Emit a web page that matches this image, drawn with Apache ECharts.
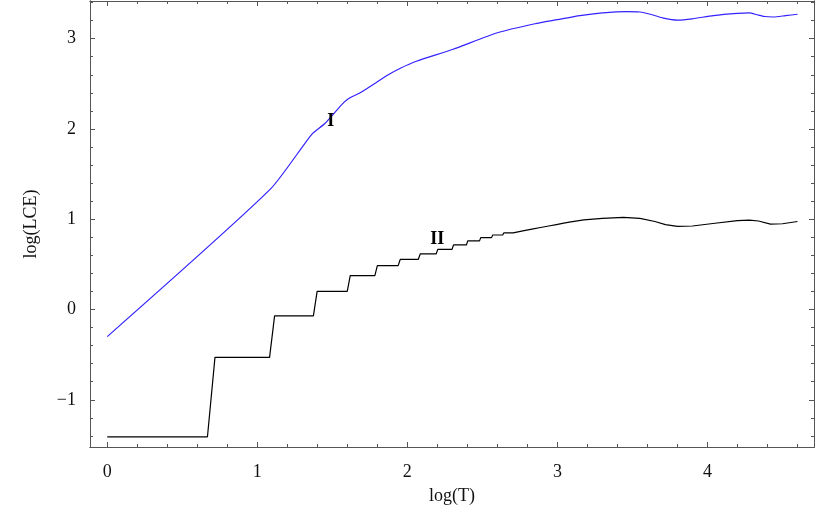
<!DOCTYPE html>
<html>
<head>
<meta charset="utf-8">
<script src="https://cdn.jsdelivr.net/npm/echarts@6/dist/echarts.min.js"></script>
<style>
  html, body { margin: 0; padding: 0; background: #fff; }
  #chart { width: 830px; height: 513px; }
</style>
</head>
<body>
<div id="chart"></div>
<script>
// curve I (blue)
const blueX = [0, 1.087, 1.363, 1.45, 1.563, 1.607, 1.685, 1.873, 1.95, 2.06, 2.3, 2.6, 2.85, 3.0, 3.15, 3.3, 3.46, 3.55, 3.62, 3.7, 3.8, 3.9, 4.04, 4.2, 4.28, 4.33, 4.38, 4.44, 4.52, 4.6];
const blueY = [-0.30, 1.333, 1.94, 2.06, 2.27, 2.335, 2.40, 2.60, 2.67, 2.75, 2.88, 3.065, 3.165, 3.21, 3.255, 3.285, 3.30, 3.295, 3.27, 3.23, 3.205, 3.22, 3.256, 3.28, 3.285, 3.265, 3.245, 3.24, 3.255, 3.27];

// curve II (black): staircase for integer T, then a smooth tail
const stepT = [1, 2, 3, 4, 5, 6, 7, 8, 9, 10, 11, 12, 13, 14, 15, 16, 17, 18, 19, 20, 21, 22, 23, 24];
const stepY = [-1.41, -0.53, -0.07, 0.20, 0.376, 0.486, 0.556, 0.615, 0.666, 0.715, 0.76, 0.796, 0.825, 0.848, 0.870, 0.89, 0.908, 0.925, 0.941, 0.956, 0.97, 0.982, 0.992, 0.998];
const tailX = [3.3, 3.44, 3.55, 3.65, 3.72, 3.8, 3.9, 4.05, 4.2, 4.28, 4.34, 4.42, 4.5, 4.6];
const tailY = [1.01, 1.02, 1.01, 0.975, 0.94, 0.92, 0.925, 0.955, 0.985, 0.99, 0.98, 0.945, 0.95, 0.975];

const xTicks = [0, 1, 2, 3, 4];
const yTicks = [-1, 0, 1, 2, 3];

const xMin = -0.115, xMax = 4.71;
const yMin = -1.523, yMax = 3.417;

// minor ticks every 0.2
const xMinor = [], yMinor = [];
for (let i = 0; i <= 23; i++) { const v = +(i * 0.2).toFixed(1); if (v % 1 !== 0) xMinor.push(v); }
for (let i = -7; i <= 17; i++) { const v = +(i * 0.2).toFixed(1); if (v % 1 !== 0) yMinor.push(v); }

const blueData = blueX.map((x, i) => [x, blueY[i]]);

const blackData = [];
stepT.forEach((t, i) => {
    const x0 = i === 0 ? Math.log(t) : Math.log(t + 0.05);
    blackData.push([x0, stepY[i]]);
    if (i < stepT.length - 1) blackData.push([Math.log(stepT[i + 1] - 0.05), stepY[i]]);
});
tailX.forEach((x, i) => blackData.push([x, tailY[i]]));

const serif = 'Liberation Serif';
const lineCol = '#555';

function xAx(pos, vals, len, labels) {
    return {
        type: 'value', position: pos, min: xMin, max: xMax,
        axisLine: { show: true, onZero: false, lineStyle: { color: lineCol, width: 1 } },
        axisTick: { show: true, inside: true, length: len, customValues: vals, lineStyle: { color: lineCol } },
        axisLabel: labels ? { show: true, customValues: vals, margin: 16, fontFamily: serif, fontSize: 18, color: '#111' } : { show: false },
        splitLine: { show: false }
    };
}
function yAx(pos, vals, len, labels) {
    return {
        type: 'value', position: pos, min: yMin, max: yMax,
        axisLine: { show: true, onZero: false, lineStyle: { color: lineCol, width: 1 } },
        axisTick: { show: true, inside: true, length: len, customValues: vals, lineStyle: { color: lineCol } },
        axisLabel: labels ? {
            show: true, customValues: vals, margin: 14, fontFamily: serif, fontSize: 18, color: '#111',
            formatter: v => v < 0 ? '\u2212' + Math.abs(v) : String(v)
        } : { show: false },
        splitLine: { show: false }
    };
}

const xAxes = [xAx('bottom', xTicks, 5, true), xAx('bottom', xMinor, 3, false), xAx('top', xTicks, 5, false), xAx('top', xMinor, 3, false)];
xAxes[0].name = 'log(T)';
xAxes[0].nameLocation = 'middle';
xAxes[0].nameGap = 40;
xAxes[0].nameTextStyle = { fontFamily: serif, fontSize: 18, color: '#111' };

const yAxes = [yAx('left', yTicks, 5, true), yAx('left', yMinor, 3, false), yAx('right', yTicks, 5, false), yAx('right', yMinor, 3, false)];
yAxes[0].name = 'log(LCE)';
yAxes[0].nameLocation = 'middle';
yAxes[0].nameGap = 50;
yAxes[0].nameTextStyle = { fontFamily: serif, fontSize: 18, color: '#111' };

const tagStyle = { fontFamily: serif, fontSize: 18, fontWeight: 'bold', color: '#000' };

const chart = echarts.init(document.getElementById('chart'));
chart.setOption({
    animation: false,
    backgroundColor: '#fff',
    grid: { left: 90, right: 16, top: 1, bottom: 66 },
    xAxis: xAxes,
    yAxis: yAxes,
    series: [
        {
            type: 'line', data: blueData, symbol: 'none', smooth: 0.2,
            lineStyle: { color: '#3322ff', width: 1.2 },
            markPoint: {
                symbol: 'circle', symbolSize: 0,
                label: { show: true, position: 'inside', formatter: 'I', ...tagStyle },
                data: [{ coord: [1.49, 2.08] }]
            }
        },
        {
            type: 'line', data: blackData, symbol: 'none',
            lineStyle: { color: '#000', width: 1.2 },
            markPoint: {
                symbol: 'circle', symbolSize: 0,
                label: { show: true, position: 'inside', formatter: 'II', ...tagStyle },
                data: [{ coord: [2.2, 0.78] }]
            }
        }
    ]
});
</script>
</body>
</html>
